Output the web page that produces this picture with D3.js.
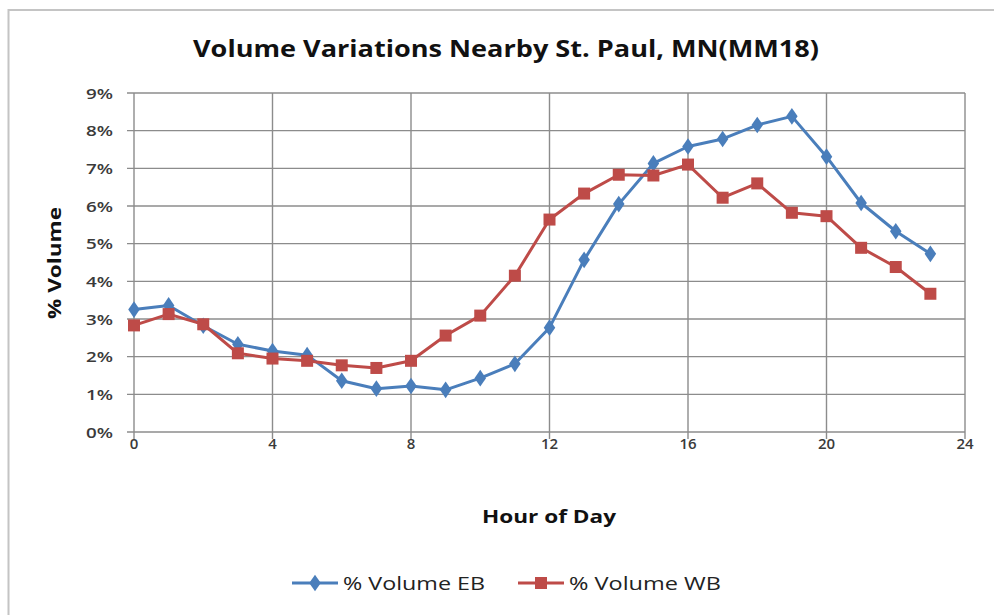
<!DOCTYPE html>
<html><head><meta charset="utf-8">
<script src="https://cdn.jsdelivr.net/npm/d3@7"></script>
<style>body{margin:0;background:#fff}svg{display:block}</style>
</head><body>
<script>
const hours = d3.range(0,24);
const ebValues = [3.25,3.36,2.82,2.33,2.15,2.04,1.36,1.15,1.22,1.12,1.43,1.81,2.77,4.57,6.05,7.13,7.58,7.78,8.15,8.38,7.31,6.08,5.33,4.73];
const wbValues = [2.83,3.13,2.86,2.09,1.95,1.89,1.77,1.70,1.89,2.56,3.09,4.15,5.64,6.33,6.83,6.81,7.10,6.22,6.60,5.82,5.73,4.89,4.38,3.67];
const xTicks = [0,4,8,12,16,20,24];
const yTicks = [0,1,2,3,4,5,6,7,8,9];
const seriesNames = ["% Volume EB","% Volume WB"];
const colors = ["#4A7EBB","#BE4B48"];

const W=994,H=615;
const svg=d3.select("body").append("svg").attr("width",W).attr("height",H);
const font="'Open Sans', 'Liberation Sans', sans-serif";

svg.append("rect").attr("x",8.5).attr("y",10).attr("width",W+20).attr("height",H+20)
  .attr("fill","none").attr("stroke","#c4c4c4").attr("stroke-width",2);

const x=d3.scaleLinear().domain([0,24]).range([134,965]);
const y=d3.scaleLinear().domain([0,9]).range([432,93]);

// grid
const g=svg.append("g");
g.selectAll(".hg").data(yTicks).join("line")
  .attr("x1",127).attr("x2",965).attr("y1",d=>y(d)).attr("y2",d=>y(d))
  .attr("stroke","#8c8c8c").attr("stroke-width",1.4);
g.selectAll(".vg").data(xTicks).join("line")
  .attr("x1",d=>x(d)).attr("x2",d=>x(d)).attr("y1",93).attr("y2",439)
  .attr("stroke","#8c8c8c").attr("stroke-width",1.4);

// axis labels
svg.append("g").selectAll("text").data(yTicks).join("text")
  .attr("x",113).attr("y",d=>y(d)+5.5).attr("text-anchor","end")
  .attr("font-family",font).attr("font-size",15).attr("font-weight",600).attr("fill","#3a3a3a")
  .attr("textLength",27).attr("lengthAdjust","spacingAndGlyphs")
  .text(d=>d+"%");
svg.append("g").selectAll("text").data(xTicks).join("text")
  .attr("x",d=>x(d)).attr("y",449).attr("text-anchor","middle")
  .attr("font-family",font).attr("font-size",15).attr("font-weight",600).attr("fill","#3a3a3a")
  .text(d=>d);

// title
svg.append("text").attr("x",506).attr("y",57).attr("text-anchor","middle")
  .attr("font-family",font).attr("font-weight","bold").attr("font-size",23).attr("fill","#111")
  .attr("textLength",626).attr("lengthAdjust","spacingAndGlyphs")
  .text("Volume Variations Nearby St. Paul, MN(MM18)");
svg.append("text").attr("x",549).attr("y",523).attr("text-anchor","middle")
  .attr("font-family",font).attr("font-weight","bold").attr("font-size",18).attr("fill","#111")
  .attr("textLength",134).attr("lengthAdjust","spacingAndGlyphs")
  .text("Hour of Day");
svg.append("text").attr("transform","translate(61,263) rotate(-90)").attr("text-anchor","middle")
  .attr("font-family",font).attr("font-weight","bold").attr("font-size",18).attr("fill","#111")
  .attr("textLength",112).attr("lengthAdjust","spacingAndGlyphs")
  .text("% Volume");

// lines
const data=[ebValues,wbValues];
const line=d3.line().x((d,i)=>x(hours[i])).y(d=>y(d));
data.forEach((vals,k)=>{
  svg.append("path").datum(vals).attr("d",line).attr("fill","none")
    .attr("stroke",colors[k]).attr("stroke-width",3).attr("stroke-linejoin","round");
});
// markers
const diamond=d3.symbol().type(d3.symbolDiamond).size(80);
svg.append("g").selectAll("path").data(ebValues).join("path")
  .attr("d",diamond).attr("transform",(d,i)=>`translate(${x(hours[i])},${y(d)}) scale(1.2,1)`)
  .attr("fill",colors[0]);
svg.append("g").selectAll("rect").data(wbValues).join("rect")
  .attr("x",(d,i)=>x(hours[i])-6).attr("y",d=>y(d)-6).attr("width",12).attr("height",12)
  .attr("fill",colors[1]);

// legend
const lg=svg.append("g");
const lx=[292,518];
const ltl=[142,152];
seriesNames.forEach((n,k)=>{
  lg.append("line").attr("x1",lx[k]).attr("x2",lx[k]+46).attr("y1",583).attr("y2",583)
    .attr("stroke",colors[k]).attr("stroke-width",3);
  if(k===0){
    lg.append("path").attr("d",diamond).attr("transform",`translate(${lx[k]+23},583) scale(1.2,1)`).attr("fill",colors[k]);
  } else {
    lg.append("rect").attr("x",lx[k]+23-6).attr("y",577).attr("width",12).attr("height",12).attr("fill",colors[k]);
  }
  lg.append("text").attr("x",lx[k]+51).attr("y",590).attr("font-family",font).attr("font-size",18)
    .attr("fill","#222").attr("textLength",ltl[k]).attr("lengthAdjust","spacingAndGlyphs").text(n);
});
</script>
</body></html>
